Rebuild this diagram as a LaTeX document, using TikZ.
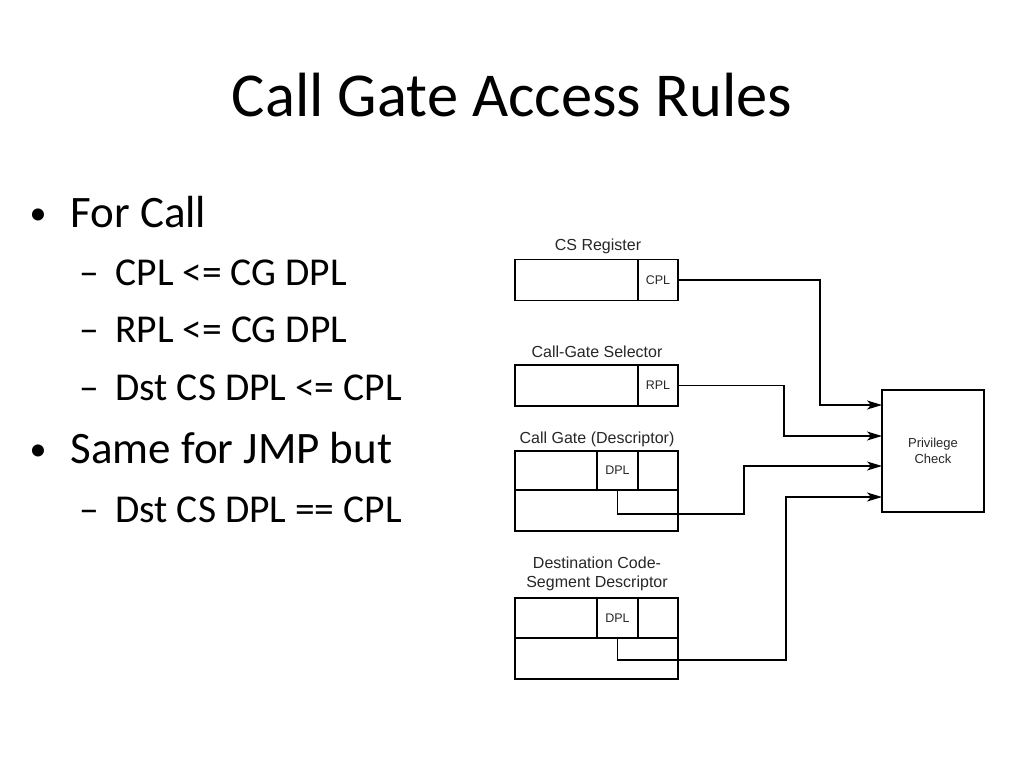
\documentclass[tikz,border=0pt]{standalone}
\usepackage{fontspec}
\setmainfont{Carlito}
\newfontfamily\arialf{Liberation Sans}
\usetikzlibrary{arrows.meta,calc}
\begin{document}
\begin{tikzpicture}[x=1pt,y=-1pt,
  fld/.style={draw=black,line width=1.4pt,minimum height=#1,inner sep=0pt,outer sep=0pt},
  fld/.default=41,
  lbl/.style={font=\arialf\fontsize{16}{18}\selectfont,text=black!85,anchor=base},
  small/.style={font=\arialf\fontsize{12.5}{14}\selectfont,text=black!85},
  arr/.style={line width=1.3pt,-{Stealth[length=15pt,width=9pt,inset=4pt]}},
  bul/.style={anchor=base west,font=\fontsize{34}{40}\selectfont},
  lvla/.style={anchor=base west,font=\fontsize{45}{54}\selectfont},
  lvlb/.style={anchor=base west,font=\fontsize{39.5}{47}\selectfont}]
\useasboundingbox (0,0) rectangle (1024,768);
% title
\node[anchor=base,font=\fontsize{62.5}{75}\selectfont] (title) at (512,116) {Call Gate Access Rules};
% bullets
\node[bul] (b1) at (26,224) {•};
\node[lvla] (t1) at (67,227) {For Call};
\node[lvlb] (d1) at (76,285) {–};
\node[lvlb] (t2) at (112,285) {CPL <= CG DPL};
\node[lvlb] (d2) at (76,342) {–};
\node[lvlb] (t3) at (112,342) {RPL <= CG DPL};
\node[lvlb] (d3) at (76,400) {–};
\node[lvlb] (t4) at (112,400) {Dst CS DPL <= CPL};
\node[bul] (b2) at (26,460) {•};
\node[lvla] (t5) at (67,463) {Same for JMP but};
\node[lvlb] (d4) at (76,522) {–};
\node[lvlb] (t6) at (112,522) {Dst CS DPL == CPL};
% CS register
\node[lbl] (lcs) at (598,250) {CS Register};
\node[fld,minimum width=123] (csmain) at (576.5,280) {};
\node[fld,minimum width=40,small] (cpl) at (658,280) {CPL};
% Call-gate selector
\node[lbl] (lsel) at (597,357) {Call-Gate Selector};
\node[fld,minimum width=123] (selmain) at (576.5,385.5) {};
\node[fld,minimum width=40,small] (rpl) at (658,385.5) {RPL};
% Call gate descriptor
\node[lbl] (lcg) at (597,443) {Call Gate (Descriptor)};
\node[fld=39,minimum width=82] (cga) at (556,470.5) {};
\node[fld=39,minimum width=41,small] (cgdpl) at (617.5,470.5) {DPL};
\node[fld=39,minimum width=40] (cgc) at (658,470.5) {};
\node[fld=41,minimum width=163] (cglow) at (596.5,510.5) {};
% Destination code segment descriptor
\node[lbl] (ldst1) at (597,568) {Destination Code-};
\node[lbl] (ldst2) at (597,587) {Segment Descriptor};
\node[fld=40,minimum width=82] (dsa) at (556,618) {};
\node[fld=40,minimum width=41,small] (dsdpl) at (617.5,618) {DPL};
\node[fld=40,minimum width=40] (dsc) at (658,618) {};
\node[fld=41,minimum width=163] (dslow) at (596.5,658.5) {};
% privilege check
\node[draw=black,line width=1.4pt,minimum width=102,minimum height=122,inner sep=0pt,
  align=center,font=\arialf\fontsize{13}{16}\selectfont,text=black!85] (pc) at (933,451) {Privilege\\Check};
% routing points
\coordinate (k1) at (820,405);
\coordinate (in1) at (882,405);
\coordinate (k2) at (784,436);
\coordinate (in2) at (882,436);
\coordinate (c3) at (744,514);
\coordinate (in3) at (882,466);
\coordinate (c4) at (786,660);
\coordinate (in4) at (882,497);
% connectors
\draw[arr] (cpl.east) -| (k1) -- (in1);
\draw[arr] (rpl.east) -| (k2) -- (in2);
\draw[arr] (cgdpl.south) |- (c3) |- (in3);
\draw[arr] (dsdpl.south) |- (c4) |- (in4);
\end{tikzpicture}
\end{document}
